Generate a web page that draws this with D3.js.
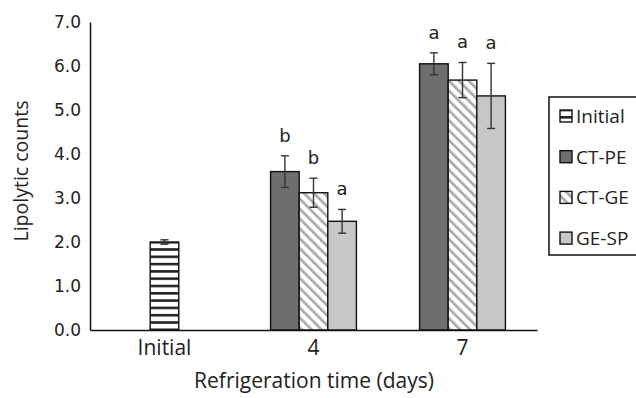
<!DOCTYPE html>
<html><head><meta charset="utf-8">
<script src="https://cdn.jsdelivr.net/npm/d3@7"></script>
<style>body{margin:0;background:#fff}svg{display:block}</style>
</head><body><svg id="c" width="636" height="398"></svg>
<script>
const categories = ["Initial", "4", "7"];
const seriesNames = ["Initial", "CT-PE", "CT-GE", "GE-SP"];
const initialValues = [2.00, null, null];
const ctpeValues = [null, 3.60, 6.05];
const ctgeValues = [null, 3.12, 5.68];
const gespValues = [null, 2.47, 5.32];
const initialErr = [0.05, null, null];
const ctpeErr = [null, 0.36, 0.25];
const ctgeErr = [null, 0.33, 0.40];
const gespErr = [null, 0.27, 0.74];
const initialLetters = ["", null, null];
const ctpeLetters = [null, "b", "a"];
const ctgeLetters = [null, "b", "a"];
const gespLetters = [null, "a", "a"];
const yTicks = [0, 1, 2, 3, 4, 5, 6, 7];

const seriesVals = [initialValues, ctpeValues, ctgeValues, gespValues];
const seriesErrs = [initialErr, ctpeErr, ctgeErr, gespErr];
const seriesLets = [initialLetters, ctpeLetters, ctgeLetters, gespLetters];
const fills = ["url(#hstripe)", "#6e6e6e", "url(#dstripe)", "#c8c8c8"];
const labelFont = "'Open Sans'";

const svg = d3.select("#c");
const defs = svg.append("defs");
const hp = defs.append("pattern").attr("id", "hstripe").attr("patternUnits", "userSpaceOnUse")
  .attr("width", 8).attr("height", 7.3);
hp.append("rect").attr("width", 8).attr("height", 7.3).attr("fill", "#fff");
hp.append("rect").attr("y", 0).attr("width", 8).attr("height", 2.6).attr("fill", "#222");
const dp = defs.append("pattern").attr("id", "dstripe").attr("patternUnits", "userSpaceOnUse")
  .attr("width", 7).attr("height", 7).attr("patternTransform", "rotate(-45)");
dp.append("rect").attr("width", 7).attr("height", 7).attr("fill", "#fff");
dp.append("rect").attr("x", 0).attr("width", 2.6).attr("height", 7).attr("fill", "#a8a8a8");

const x = d3.scaleBand().domain(categories).range([90, 537]).padding(0);
const y = d3.scaleLinear().domain([0, 7]).range([330, 22]);
const bw = x.bandwidth() * 0.192;

const bars = [];
categories.forEach((c, ci) => {
  const present = seriesNames.map((s, si) => si).filter(si => seriesVals[si][ci] != null);
  const cx = x(c) + x.bandwidth() / 2;
  const inner = d3.scaleBand().domain(present).range([cx - present.length * bw / 2, cx + present.length * bw / 2]);
  present.forEach(si => bars.push({
    si, x0: inner(si), w: inner.bandwidth(), v: seriesVals[si][ci], e: seriesErrs[si][ci], l: seriesLets[si][ci]
  }));
});

const g = svg.append("g");
g.selectAll("rect.bar").data(bars).join("rect").attr("class", "bar")
  .attr("x", d => d.x0).attr("y", d => y(d.v)).attr("width", d => d.w).attr("height", d => y(0) - y(d.v))
  .attr("fill", d => fills[d.si]).attr("stroke", "#111").attr("stroke-width", 1.4);

const eb = g.selectAll("g.err").data(bars).join("g").attr("stroke", "#333").attr("stroke-width", 1.4);
eb.append("line").attr("x1", d => d.x0 + d.w / 2).attr("x2", d => d.x0 + d.w / 2)
  .attr("y1", d => y(d.v + d.e)).attr("y2", d => y(d.v - d.e));
eb.append("line").attr("x1", d => d.x0 + d.w / 2 - 4).attr("x2", d => d.x0 + d.w / 2 + 4)
  .attr("y1", d => y(d.v + d.e)).attr("y2", d => y(d.v + d.e));
eb.append("line").attr("x1", d => d.x0 + d.w / 2 - 4).attr("x2", d => d.x0 + d.w / 2 + 4)
  .attr("y1", d => y(d.v - d.e)).attr("y2", d => y(d.v - d.e));

g.selectAll("text.let").data(bars.filter(d => d.l)).join("text").attr("class", "let")
  .attr("x", d => d.x0 + d.w / 2).attr("y", d => y(d.v + d.e) - 14)
  .attr("text-anchor", "middle").attr("font-family", "DejaVu Sans").attr("font-size", 18).attr("fill", "#222")
  .text(d => d.l);

// axes
const ya = svg.append("g").attr("transform", "translate(90,0)")
  .call(d3.axisLeft(y).tickValues(yTicks).tickFormat(d3.format(".1f")).tickSize(0).tickPadding(9));
ya.select(".domain").attr("stroke", "#111").attr("stroke-width", 1.5);
ya.selectAll("text").attr("font-family", "DejaVu Sans").attr("font-size", 17).attr("fill", "#222");

const xa = svg.append("g").attr("transform", "translate(0,330)")
  .call(d3.axisBottom(x).tickSize(0).tickPadding(10));
xa.select(".domain").attr("stroke", "#111").attr("stroke-width", 1.5);
xa.selectAll("text").attr("font-family", labelFont).attr("font-size", 21).attr("fill", "#222");

svg.append("text").attr("x", 314).attr("y", 388).attr("text-anchor", "middle")
  .attr("font-family", labelFont).attr("font-size", 21).attr("fill", "#222").text("Refrigeration time (days)");
svg.append("text").attr("transform", "translate(28,171) rotate(-90)").attr("text-anchor", "middle")
  .attr("font-family", labelFont).attr("font-size", 19.5).attr("fill", "#222").text("Lipolytic counts");

// legend
const lg = svg.append("g");
lg.append("rect").attr("x", 549).attr("y", 97).attr("width", 100).attr("height", 158)
  .attr("fill", "#fff").attr("stroke", "#111").attr("stroke-width", 1.5);
const li = lg.selectAll("g.li").data(seriesNames).join("g")
  .attr("transform", (d, i) => `translate(560,${116 + i * 40.7})`);
li.append("rect").attr("x", 0).attr("y", -6).attr("width", 12).attr("height", 12)
  .attr("fill", (d, i) => fills[i]).attr("stroke", "#111").attr("stroke-width", 1.4);
li.append("text").attr("x", 16).attr("y", 7).attr("font-family", labelFont).attr("font-size", 19)
  .attr("fill", "#222").text(d => d);
</script></body></html>
